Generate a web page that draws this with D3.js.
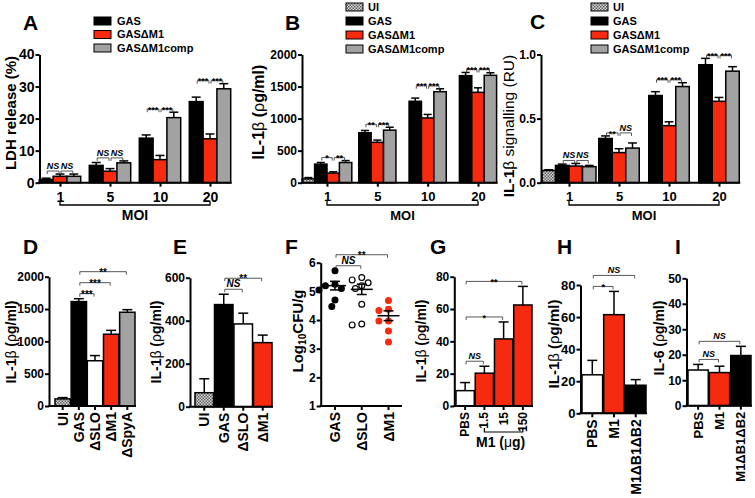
<!DOCTYPE html>
<html><head><meta charset="utf-8">
<script src="https://cdn.jsdelivr.net/npm/d3@7"></script>
<style>
body{margin:0;background:#fff;}
svg{display:block;font-family:"Liberation Sans",Arial,Helvetica,sans-serif;}
</style></head><body>
<svg id="c" width="755" height="498"></svg>
<script>
// ---------------- DATA ----------------
const moiGroups = ["1", "5", "10", "20"];
const seriesNames = ["GAS", "GASΔM1", "GASΔM1comp"];

// Panel A: LDH release (%)
const ldhGAS = [1.0, 5.4, 13.9, 25.3];
const ldhGASerr = [0.4, 0.9, 1.0, 1.4];
const ldhM1 = [2.0, 3.6, 7.2, 13.7];
const ldhM1err = [0.7, 0.8, 1.3, 1.5];
const ldhComp = [2.0, 6.2, 20.3, 29.3];
const ldhCompErr = [0.7, 0.6, 1.7, 1.6];
const sigA = [["NS", "NS"], ["NS", "NS"], ["***", "***"], ["***", "***"]];
const ticksA = [0, 10, 20, 30, 40];

// Panel B: IL-1β (ρg/ml)
const ilbUI = 60, ilbUIerr = 20;
const ilbGAS = [290, 780, 1270, 1670];
const ilbGASerr = [25, 35, 50, 50];
const ilbM1 = [150, 630, 1010, 1410];
const ilbM1err = [20, 35, 55, 70];
const ilbComp = [315, 820, 1420, 1675];
const ilbCompErr = [30, 45, 45, 40];
const sigB = [["*", "**"], ["**", "***"], ["***", "***"], ["***", "***"]];
const ticksB = [0, 500, 1000, 1500, 2000];

// Panel C: IL-1β signalling (RU)
const sigUI = 0.095, sigUIerr = 0.006;
const sigGAS = [0.135, 0.345, 0.68, 0.92];
const sigGASerr = [0.01, 0.02, 0.03, 0.05];
const sigM1 = [0.13, 0.235, 0.445, 0.635];
const sigM1err = [0.02, 0.03, 0.03, 0.03];
const sigComp = [0.125, 0.27, 0.75, 0.87];
const sigCompErr = [0.01, 0.04, 0.03, 0.035];
const sigC = [["NS", "NS"], ["**", "NS"], ["***", "***"], ["***", "***"]];
const ticksC = [0, 0.5, 1.0];

// Panel D
const catsD = ["UI", "GAS", "ΔSLO", "ΔM1", "ΔSpyA"];
const valsD = [110, 1615, 700, 1110, 1450];
const errsD = [20, 45, 80, 60, 40];
const sigD = [[1, 2, "***"], [1, 3, "***"], [1, 4, "**"]];
const ticksD = [0, 500, 1000, 1500, 2000];

// Panel E
const catsE = ["UI", "GAS", "ΔSLO", "ΔM1"];
const valsE = [65, 475, 385, 298];
const errsE = [65, 48, 50, 35];
const sigE = [[1, 2, "NS"], [1, 3, "**"]];
const ticksE = [0, 200, 400, 600];

// Panel F: Log10 CFU/g (individual animals)
const catsF = ["GAS", "ΔSLO", "ΔM1"];
const cfuGAS = [5.72, 5.25, 5.2, 5.1, 5.05, 4.7, 4.47];
const cfuSLO = [5.48, 5.4, 5.3, 5.2, 5.1, 4.55, 3.83, 3.86];
const cfuM1 = [4.68, 4.38, 4.33, 3.97, 3.97, 3.62, 3.23];
const cfuMean = [5.2, 5.07, 4.15];
const cfuSem = [0.15, 0.18, 0.17];
const sigF = [[0, 1, "NS"], [0, 2, "**"]];
const ticksF = [1, 2, 3, 4, 5, 6];

// Panel G
const catsG = ["PBS", "1.5", "15", "150"];
const valsG = [9.5, 20.3, 41.5, 62.5];
const errsG = [5, 4.3, 10.5, 11.5];
const sigG = [[0, 1, "NS"], [0, 2, "*"], [0, 3, "**"]];
const ticksG = [0, 20, 40, 60, 80];

// Panel H
const catsH = ["PBS", "M1", "M1ΔB1ΔB2"];
const valsH = [24, 61.5, 17.5];
const errsH = [9, 14.5, 3.5];
const sigH = [[0, 1, "*"], [0, 2, "NS"]];
const ticksH = [0, 20, 40, 60, 80];

// Panel I
const catsI = ["PBS", "M1", "M1ΔB1ΔB2"];
const valsI = [14, 13, 19.7];
const errsI = [2.2, 2.5, 3.6];
const sigI = [[0, 1, "NS"], [0, 2, "NS"]];
const ticksI = [0, 10, 20, 30, 40, 50];

// ---------------- DRAWING ----------------
const FONT = '"Liberation Sans", Arial, Helvetica, sans-serif';
const RED = "#f52a0e", GRAY = "#a2a2a2";
const svg = d3.select("#c");
const defs = svg.append("defs");
const pat = defs.append("pattern").attr("id", "chk").attr("width", 3).attr("height", 3).attr("patternUnits", "userSpaceOnUse");
pat.append("rect").attr("width", 3).attr("height", 3).attr("fill", "#dcdcdc");
pat.append("rect").attr("width", 1.5).attr("height", 1.5).attr("fill", "#5a5a5a");
pat.append("rect").attr("x", 1.5).attr("y", 1.5).attr("width", 1.5).attr("height", 1.5).attr("fill", "#5a5a5a");
const FILL = {UI: "url(#chk)", GAS: "#000", M1: RED, COMP: GRAY, W: "#fff"};

function txt(x, y, s, fs, o = {}) {
  return svg.append("text").attr("x", x).attr("y", y).text(s)
    .attr("font-size", fs).attr("font-weight", o.weight || "bold")
    .attr("font-style", o.style || "normal").attr("text-anchor", o.anchor || "start")
    .attr("fill", "#000");
}
function yAxis(y, x, ticks, fs, fmt) {
  const g = svg.append("g").attr("transform", `translate(${x},0)`)
    .call(d3.axisLeft(y).tickValues(ticks).tickSize(4).tickSizeOuter(0).tickPadding(1)
      .tickFormat(fmt || d3.format("")));
  g.attr("font-family", FONT).attr("font-size", fs);
  g.select(".domain").attr("stroke", "#000").attr("stroke-width", 2);
  g.selectAll(".tick line").attr("stroke", "#000").attr("stroke-width", 2);
  g.selectAll(".tick text").attr("font-weight", "bold").attr("fill", "#000");
  return g;
}
function yLabel(x, y, parts, fs) {
  const t = svg.append("text").attr("transform", `translate(${x},${y}) rotate(-90)`)
    .attr("text-anchor", "middle").attr("dominant-baseline", "central").attr("font-size", fs).attr("fill", "#000");
  parts.forEach(p => {
    const s = t.append("tspan").text(p[0]).attr("font-weight", p[1] ? "bold" : "normal");
    if (p[2] === "sub") s.attr("font-size", fs * 0.68).attr("dy", fs * 0.3);
    if (p[2] === "up") s.attr("dy", -fs * 0.3);
  });
}
function bracket(x1, x2, y, label, fs) {
  svg.append("path").attr("d", `M${x1},${y + 3}V${y}H${x2}V${y + 3}`)
    .attr("fill", "none").attr("stroke", "#444").attr("stroke-width", 0.9);
  const ns = label === "NS";
  txt((x1 + x2) / 2, ns ? y - 2 : y + fs * 0.4, label, fs, {anchor: "middle", style: ns ? "italic" : "normal"});
}
function drawBar(x, w, y0, yv, ye, fill) {
  svg.append("line").attr("x1", x + w / 2).attr("x2", x + w / 2).attr("y1", yv).attr("y2", ye)
    .attr("stroke", "#000").attr("stroke-width", 1.5);
  const cw = Math.min(10, w * 0.65);
  svg.append("line").attr("x1", x + w / 2 - cw / 2).attr("x2", x + w / 2 + cw / 2).attr("y1", ye).attr("y2", ye)
    .attr("stroke", "#000").attr("stroke-width", 1.5);
  svg.append("rect").attr("x", x).attr("y", yv).attr("width", w).attr("height", Math.max(0, y0 - yv))
    .attr("fill", fill).attr("stroke", "#000").attr("stroke-width", 1.5);
}
function legend(xs, xt, ys, items, fs) {
  items.forEach((it, i) => {
    svg.append("rect").attr("x", xs).attr("y", ys[i] - 4).attr("width", 17).attr("height", 8)
      .attr("fill", it[1]).attr("stroke", "#000").attr("stroke-width", 1);
    txt(xt, ys[i] + fs * 0.36, it[0], fs);
  });
}

// Grouped MOI panels
function groupedPanel(c) {
  const y = d3.scaleLinear().domain([0, c.yMax]).range([c.y0, c.yTop]);
  const xp = d3.scalePoint().domain(moiGroups).range(c.xr);
  let xRight = 0;
  moiGroups.forEach((g, gi) => {
    const list = [];
    if (c.ui && gi === 0) list.push({v: c.ui[0], e: c.ui[1], fill: FILL.UI});
    c.series.forEach(s => list.push({v: s.v[gi], e: s.e[gi], fill: s.fill}));
    const n = list.length, cx = xp(g);
    const xs = list.map((d, i) => cx - n * c.bw / 2 + i * c.bw);
    list.forEach((d, i) => drawBar(xs[i], c.bw, c.y0, y(d.v), y(d.v + d.e), d.fill));
    xRight = Math.max(xRight, xs[n - 1] + c.bw);
    const by = d3.min(list, d => y(d.v + d.e)) - 3;
    const off = n - 3;
    const cen = i => xs[i + off] + c.bw / 2;
    bracket(cen(0) + 1, cen(1) - 1, by, c.sig[gi][0], c.sfs);
    bracket(cen(1) + 1, cen(2) - 1, by, c.sig[gi][1], c.sfs);
  });
  yAxis(y, c.ax, c.ticks, c.tfs, c.fmt);
  svg.append("line").attr("x1", c.ax - 1).attr("x2", xRight + 1).attr("y1", c.y0).attr("y2", c.y0)
    .attr("stroke", "#000").attr("stroke-width", 2);
  const gx = svg.append("g").attr("transform", `translate(0,${c.y0})`)
    .call(d3.axisBottom(xp).tickSize(4).tickSizeOuter(0).tickPadding(5));
  gx.select(".domain").remove();
  gx.attr("font-family", FONT).attr("font-size", c.xfs);
  gx.selectAll(".tick line").attr("stroke", "#000").attr("stroke-width", 2);
  gx.selectAll(".tick text").attr("font-weight", "bold").attr("fill", "#000");
  const x1 = xp(moiGroups[0]), x2 = xp(moiGroups[3]), by = 205;
  svg.append("path").attr("d", `M${x1},${by - 4}V${by}H${x2}V${by - 4}`)
    .attr("fill", "none").attr("stroke", "#000").attr("stroke-width", 1.3);
  txt((x1 + x2) / 2, 219.5, "MOI", c.mfs, {anchor: "middle"});
}

groupedPanel({y0: 182.7, yTop: 54.5, yMax: 40, ticks: ticksA, ax: 39.5, xr: [60, 210], bw: 13.8,
  series: [{v: ldhGAS, e: ldhGASerr, fill: FILL.GAS}, {v: ldhM1, e: ldhM1err, fill: FILL.M1}, {v: ldhComp, e: ldhCompErr, fill: FILL.COMP}],
  sig: sigA, sfs: 9, tfs: 14, xfs: 14, mfs: 14});
yLabel(10, 113, [["LDH release (%)", true]], 15);
txt(23, 30, "A", 21);
legend(94, 117, [21, 34.5, 48], [[seriesNames[0], FILL.GAS], [seriesNames[1], FILL.M1], [seriesNames[2], FILL.COMP]], 11);

groupedPanel({y0: 182.7, yTop: 54.5, yMax: 2000, ticks: ticksB, ax: 302, xr: [327, 478], bw: 12.4,
  ui: [ilbUI, ilbUIerr],
  series: [{v: ilbGAS, e: ilbGASerr, fill: FILL.GAS}, {v: ilbM1, e: ilbM1err, fill: FILL.M1}, {v: ilbComp, e: ilbCompErr, fill: FILL.COMP}],
  sig: sigB, sfs: 9, tfs: 12, xfs: 13, mfs: 13});
yLabel(258, 112, [["IL-1", true], ["β", false], [" (", true], ["ρ", false], ["g/ml)", true]], 16);
txt(285, 30, "B", 21);
legend(346, 368, [7, 21, 35, 49], [["UI", FILL.UI], [seriesNames[0], FILL.GAS], [seriesNames[1], FILL.M1], [seriesNames[2], FILL.COMP]], 11);

groupedPanel({y0: 182.7, yTop: 54.5, yMax: 1.0, ticks: ticksC, ax: 541, xr: [569, 719], bw: 13.5,
  ui: [sigUI, sigUIerr], fmt: d3.format(".1f"),
  series: [{v: sigGAS, e: sigGASerr, fill: FILL.GAS}, {v: sigM1, e: sigM1err, fill: FILL.M1}, {v: sigComp, e: sigCompErr, fill: FILL.COMP}],
  sig: sigC, sfs: 9, tfs: 12, xfs: 13, mfs: 13});
yLabel(508, 126, [["IL-1", true], ["β signalling (RU)", false]], 15.5);
txt(530, 29, "C", 21);
legend(591, 613, [7, 21, 35, 49], [["UI", FILL.UI], [seriesNames[0], FILL.GAS], [seriesNames[1], FILL.M1], [seriesNames[2], FILL.COMP]], 11);

// Simple bar panels
function barPanel(c) {
  const y = d3.scaleLinear().domain([0, c.yMax]).range([c.y0, c.yTop]);
  const x = d3.scaleBand().domain(c.cats).range(c.xr).paddingInner(0.05);
  c.cats.forEach((k, i) => drawBar(x(k), x.bandwidth(), c.y0, y(c.vals[i]), y(c.vals[i] + c.errs[i]), c.fills[i]));
  yAxis(y, c.ax, c.ticks, c.tfs);
  xCats(x, c.cats, c.ax, c.xr[1] + 1, c.y0, c.xfs, k => x(k) + x.bandwidth() / 2);
  const tops = c.cats.map((k, i) => y(c.vals[i] + c.errs[i]));
  sigStack(c.sig, tops, k => x(c.cats[k]) + x.bandwidth() / 2, c.sfs);
}
function xCats(x, cats, ax, xEnd, y0, fs, cxf) {
  svg.append("line").attr("x1", ax - 1).attr("x2", xEnd).attr("y1", y0).attr("y2", y0)
    .attr("stroke", "#000").attr("stroke-width", 2);
  cats.forEach(k => {
    const cx = cxf(k);
    svg.append("line").attr("x1", cx).attr("x2", cx).attr("y1", y0).attr("y2", y0 + 4).attr("stroke", "#000").attr("stroke-width", 2);
    svg.append("text").attr("transform", `translate(${cx},${y0 + 6}) rotate(-90)`).text(k)
      .attr("text-anchor", "end").attr("dominant-baseline", "central").attr("font-size", fs)
      .attr("font-weight", "bold").attr("fill", "#000");
  });
}
function sigStack(sigs, tops, cx, fs) {
  const placed = [];
  sigs.forEach(s => {
    const [a, b, lab] = s;
    let by = d3.min(tops.slice(Math.min(a, b), Math.max(a, b) + 1)) - 5;
    placed.forEach(p => { if (p.a <= b && a <= p.b) by = Math.min(by, p.y - 11); });
    placed.push({a, b, y: by});
    bracket(cx(a) + 1, cx(b) - 1, by, lab, fs);
  });
}

barPanel({cats: catsD, vals: valsD, errs: errsD, fills: [FILL.UI, FILL.GAS, FILL.W, FILL.M1, FILL.COMP],
  y0: 406, yTop: 276.7, yMax: 2000, ticks: ticksD, ax: 49, xr: [55, 135], sig: sigD, sfs: 10, tfs: 12, xfs: 14});
yLabel(11, 342, [["IL-1", true], ["β", false], [" (", true], ["ρ", false], ["g/ml)", true]], 14);
txt(23, 254, "D", 21);

barPanel({cats: catsE, vals: valsE, errs: errsE, fills: [FILL.UI, FILL.GAS, FILL.W, FILL.M1],
  y0: 406.7, yTop: 277.7, yMax: 600, ticks: ticksE, ax: 190, xr: [195, 272], sig: sigE, sfs: 10, tfs: 12, xfs: 14});
yLabel(156, 342, [["IL-1", true], ["β", false], [" (", true], ["ρ", false], ["g/ml)", true]], 14);
txt(173, 254, "E", 21);

// Panel F scatter
(function () {
  const y = d3.scaleLinear().domain([1, 6]).range([406, 262.7]);
  const x = d3.scalePoint().domain(catsF).range([335, 388.5]);
  const groups = [cfuGAS, cfuSLO, cfuM1];
  const styles = [{f: "#000", s: "#000"}, {f: "#fff", s: "#000"}, {f: RED, s: RED}];
  const r = 2.9;
  groups.forEach((vals, gi) => {
    const cx = x(catsF[gi]);
    const placed = [];
    vals.map(v => ({v, py: y(v)})).sort((a, b) => b.v - a.v).forEach(p => {
      const offs = [0];
      for (let k = 1; k < 10; k++) offs.push(-k * 3.2, k * 3.2);
      for (const o of offs) {
        if (placed.every(q => Math.hypot(q.px - (cx + o), q.py - p.py) >= 2 * r + 1.2)) { p.px = cx + o; break; }
      }
      placed.push(p);
    });
    placed.forEach(p => svg.append("circle").attr("cx", p.px).attr("cy", p.py).attr("r", r)
      .attr("fill", styles[gi].f).attr("stroke", styles[gi].s).attr("stroke-width", 1.2));
    const m = y(cfuMean[gi]), lo = y(cfuMean[gi] - cfuSem[gi]), hi = y(cfuMean[gi] + cfuSem[gi]);
    const ln = (x1, x2, y1, y2) => svg.append("line").attr("x1", x1).attr("x2", x2).attr("y1", y1).attr("y2", y2).attr("stroke", "#000").attr("stroke-width", 1.5);
    ln(cx - 11, cx + 11, m, m); ln(cx, cx, lo, hi); ln(cx - 5, cx + 5, lo, lo); ln(cx - 5, cx + 5, hi, hi);
  });
  yAxis(y, 320.7, ticksF, 12);
  xCats(x, catsF, 320.7, 402, 406, 14, k => x(k));
  const tops = groups.map(g => y(d3.max(g)));
  sigStack(sigF, tops, k => x(catsF[k]), 10);
})();
yLabel(297, 331, [["Log", true], ["10", true, "sub"], ["CFU/g", true, "up"]], 15);
txt(285, 254, "F", 21);

barPanel({cats: catsG, vals: valsG, errs: errsG, fills: [FILL.W, FILL.M1, FILL.M1, FILL.M1],
  y0: 406, yTop: 276.7, yMax: 80, ticks: ticksG, ax: 454.3, xr: [456, 532], sig: sigG, sfs: 9, tfs: 12, xfs: 12});
yLabel(421, 341, [["IL-1", true], ["β", false], [" (", true], ["ρ", false], ["g/ml)", true]], 14);
txt(430, 254, "G", 21);
(function () {
  const x = d3.scaleBand().domain(catsG).range([456, 532]).paddingInner(0.05);
  const x1 = x(catsG[1]) + x.bandwidth() / 2, x2 = x(catsG[3]) + x.bandwidth() / 2, by = 432;
  svg.append("path").attr("d", `M${x1},${by - 4}V${by}H${x2}V${by - 4}`)
    .attr("fill", "none").attr("stroke", "#000").attr("stroke-width", 1.2);
  const t = svg.append("text").attr("x", (x1 + x2) / 2 - 3).attr("y", 447).attr("text-anchor", "middle")
    .attr("font-size", 14).attr("fill", "#000");
  t.append("tspan").text("M1 (").attr("font-weight", "bold");
  t.append("tspan").text("μ").attr("font-weight", "normal");
  t.append("tspan").text("g)").attr("font-weight", "bold");
})();

barPanel({cats: catsH, vals: valsH, errs: errsH, fills: [FILL.W, FILL.M1, FILL.GAS],
  y0: 413.3, yTop: 285, yMax: 80, ticks: ticksH, ax: 580.5, xr: [582, 646], sig: sigH, sfs: 9, tfs: 13, xfs: 14});
yLabel(553, 344, [["IL-1", true], ["β", false], [" (", true], ["ρ", false], ["g/ml)", true]], 15);
txt(557, 254, "H", 21);

barPanel({cats: catsI, vals: valsI, errs: errsI, fills: [FILL.W, FILL.M1, FILL.GAS],
  y0: 405.7, yTop: 278.3, yMax: 50, ticks: ticksI, ax: 686.5, xr: [688, 751], sig: sigI, sfs: 9, tfs: 12, xfs: 13});
yLabel(659, 338, [["IL-6 (", true], ["ρ", false], ["g/ml)", true]], 14);
txt(675, 254, "I", 21);
</script></body></html>
